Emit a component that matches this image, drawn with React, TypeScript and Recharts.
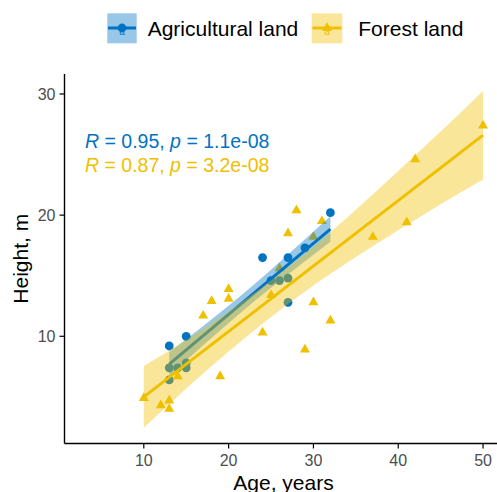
import { Area, ComposedChart, Line, Scatter, XAxis, YAxis } from 'recharts'

const BLUE = '#0073C2'
const YELLOW = '#EFC000'
const FONT = '"Liberation Sans", Arial, Helvetica, sans-serif'

// Agricultural land: age (years) and tree height (m)
const agriAge = [13, 13, 13, 14, 15, 15, 15, 24, 25, 26, 27, 27, 27, 29, 32]
const agriHeight = [9.2, 7.4, 6.4, 7.4, 10.0, 7.8, 7.4, 16.5, 14.6, 14.6, 16.5, 14.8, 12.8, 17.3, 20.2]

// Forest land
const forestAge = [10, 12, 13, 13, 14, 17, 18, 19, 20, 20, 24, 25, 26, 27, 28, 29, 30, 30, 31, 32, 37, 41, 42, 50]
const forestHeight = [
  4.9, 4.3, 4.7, 4.0, 6.7, 11.7, 12.9, 6.7, 13.9, 13.1, 10.3, 13.4, 15.6, 18.5, 20.4, 8.9, 18.2, 12.8,
  19.5, 11.3, 18.2, 19.4, 24.6, 27.4,
]

// fitted lines
const agriFitAge = [13, 32]
const agriFitHeight = [7.7, 18.85]
const forestFitAge = [10, 50]
const forestFitHeight = [5.0, 26.6]

// confidence bands
const agriBandAge = [13, 17, 21, 25, 29, 32]
const agriBandLow = [6.7, 9.25, 11.7, 14.0, 16.2, 17.8]
const agriBandHigh = [8.7, 10.85, 13.1, 15.5, 18.0, 19.9]

const forestBandAge = [10, 15, 20, 25, 30, 35, 40, 45, 50]
const forestBandLow = [2.45, 5.7, 8.75, 11.6, 14.2, 16.55, 18.75, 20.9, 22.95]
const forestBandHigh = [7.55, 9.7, 12.05, 14.6, 17.4, 20.45, 23.65, 26.9, 30.25]

const xTicks = [10, 20, 30, 40, 50]
const yTicks = [10, 20, 30]

const agriPoints = agriAge.map((x, i) => ({ x, y: agriHeight[i] }))
const forestPoints = forestAge.map((x, i) => ({ x, y: forestHeight[i] }))
const agriFit = agriFitAge.map((x, i) => ({ x, fit: agriFitHeight[i] }))
const forestFit = forestFitAge.map((x, i) => ({ x, fit: forestFitHeight[i] }))
const agriBand = agriBandAge.map((x, i) => ({ x, band: [agriBandLow[i], agriBandHigh[i]] }))
const forestBand = forestBandAge.map((x, i) => ({ x, band: [forestBandLow[i], forestBandHigh[i]] }))

function CircleMark({ cx, cy }: { cx?: number; cy?: number }) {
  if (cx == null || cy == null) return null
  return <circle cx={cx} cy={cy} r={4.4} fill={BLUE} />
}

function TriangleMark({ cx, cy }: { cx?: number; cy?: number }) {
  if (cx == null || cy == null) return null
  return (
    <polygon
      points={`${cx},${cy - 5.8} ${cx + 5},${cy + 2.9} ${cx - 5},${cy + 2.9}`}
      fill={YELLOW}
    />
  )
}

const tickStyle = { fill: '#4D4D4D', fontSize: 16, fontFamily: FONT }

export default function App() {
  return (
    <div
      style={{
        position: 'fixed',
        left: 0,
        top: 0,
        width: 497,
        height: 492,
        overflow: 'hidden',
        background: '#fff',
        fontFamily: FONT,
      }}
    >
      <ComposedChart width={505} height={492} margin={{ top: 74, right: 2, bottom: 0, left: 0 }}>
        <XAxis
          type="number"
          dataKey="x"
          domain={[0.65, 52.35]}
          ticks={xTicks}
          height={48.5}
          tick={tickStyle}
          tickSize={5}
          tickMargin={6}
          axisLine={{ stroke: '#000', strokeWidth: 1.4 }}
          tickLine={{ stroke: '#000', strokeWidth: 1.2 }}
        />
        <YAxis
          type="number"
          dataKey="y"
          domain={[1.15, 31.65]}
          ticks={yTicks}
          width={64.5}
          tick={tickStyle}
          tickSize={5}
          tickMargin={4}
          axisLine={{ stroke: '#000', strokeWidth: 1.4 }}
          tickLine={{ stroke: '#000', strokeWidth: 1.2 }}
        />
        <Scatter data={agriPoints} shape={<CircleMark />} isAnimationActive={false} zIndex={100} />
        <Scatter data={forestPoints} shape={<TriangleMark />} isAnimationActive={false} zIndex={110} />
        <Area
          data={agriBand}
          dataKey="band"
          type="monotone"
          stroke="none"
          fill={BLUE}
          fillOpacity={0.4}
          isAnimationActive={false}
          zIndex={200}
        />
        <Line
          data={agriFit}
          dataKey="fit"
          stroke={BLUE}
          strokeWidth={3}
          dot={false}
          activeDot={false}
          isAnimationActive={false}
          zIndex={300}
        />
        <Area
          data={forestBand}
          dataKey="band"
          type="monotone"
          stroke="none"
          fill={YELLOW}
          fillOpacity={0.4}
          isAnimationActive={false}
          zIndex={400}
        />
        <Line
          data={forestFit}
          dataKey="fit"
          stroke={YELLOW}
          strokeWidth={3}
          dot={false}
          activeDot={false}
          isAnimationActive={false}
          zIndex={500}
        />
      </ComposedChart>

      <svg
        width={497}
        height={492}
        style={{ position: 'absolute', left: 0, top: 0, pointerEvents: 'none' }}
        fontFamily={FONT}
      >
        {/* legend */}
        <rect x={107.3} y={13.3} width={29.4} height={30} fill={BLUE} fillOpacity={0.4} />
        <line x1={108} x2={136} y1={28} y2={28} stroke={BLUE} strokeWidth={3} />
        <circle cx={122} cy={28} r={4.4} fill={BLUE} />
        <text x={122} y={35} fontSize={10} fill={BLUE} textAnchor="middle">a</text>
        <text x={147.7} y={36} fontSize={21} fill="#000">Agricultural land</text>

        <rect x={311.7} y={13.3} width={30.6} height={30} fill={YELLOW} fillOpacity={0.4} />
        <line x1={312.5} x2={341.5} y1={28} y2={28} stroke={YELLOW} strokeWidth={3} />
        <polygon points="327,22.2 332,30.9 322,30.9" fill={YELLOW} />
        <text x={327} y={35} fontSize={10} fill={YELLOW} textAnchor="middle">a</text>
        <text x={358.3} y={36} fontSize={21} fill="#000">Forest land</text>

        {/* correlation labels */}
        <text x={85} y={147.7} fontSize={19.5} fill={BLUE}>
          <tspan fontStyle="italic">R</tspan>
          {' = 0.95, '}
          <tspan fontStyle="italic">p</tspan>
          {' = 1.1e-08'}
        </text>
        <text x={85} y={171.7} fontSize={19.5} fill={YELLOW}>
          <tspan fontStyle="italic">R</tspan>
          {' = 0.87, '}
          <tspan fontStyle="italic">p</tspan>
          {' = 3.2e-08'}
        </text>

        {/* axis titles */}
        <text x={283.5} y={489.5} fontSize={21} fill="#000" textAnchor="middle">
          Age, years
        </text>
        <text
          x={0}
          y={0}
          fontSize={21}
          fill="#000"
          textAnchor="middle"
          transform="translate(27.5 258.7) rotate(-90)"
        >
          Height, m
        </text>
      </svg>
    </div>
  )
}
